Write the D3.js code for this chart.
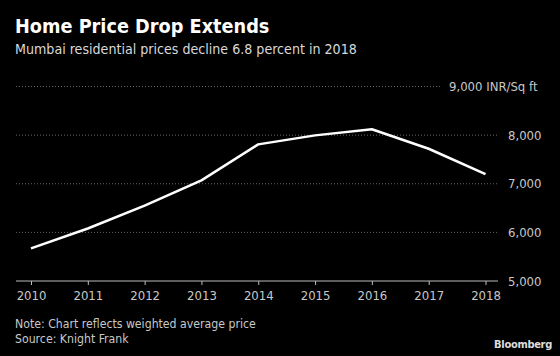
<!DOCTYPE html>
<html><head><meta charset="utf-8">
<script src="https://cdn.jsdelivr.net/npm/d3@7"></script>
<style>
html,body{margin:0;padding:0;background:#000;}
svg{display:block;}
text{font-family:"DejaVu Sans Condensed","DejaVu Sans",sans-serif;}
</style></head>
<body><svg id="c" width="560" height="356"></svg>
<script>
const years = [2010, 2011, 2012, 2013, 2014, 2015, 2016, 2017, 2018];
const prices = [5670, 6080, 6550, 7070, 7810, 7995, 8120, 7720, 7200];
const yTicks = [5000, 6000, 7000, 8000, 9000];
const yTickLabels = ["5,000", "6,000", "7,000", "8,000", "9,000 INR/Sq ft"];

const svg = d3.select("#c");
svg.append("rect").attr("width",560).attr("height",356).attr("fill","#000");

const x = d3.scaleLinear().domain([2010, 2018]).range([31, 485.5]);
const y = d3.scaleLinear().domain([5000, 9000]).range([281, 86.5]);

svg.append("text").attr("x",15).attr("y",33).attr("fill","#fff")
  .attr("font-size",19.7).attr("font-weight","bold").text("Home Price Drop Extends");
svg.append("text").attr("x",15).attr("y",54).attr("fill","#d9d9d9")
  .attr("font-size",14.1).text("Mumbai residential prices decline 6.8 percent in 2018");

// gridlines
svg.append("g").selectAll("line").data(yTicks.filter(d=>d>5000)).join("line")
  .attr("x1",16).attr("x2",d=>d===9000?441:498)
  .attr("y1",d=>y(d)).attr("y2",d=>y(d))
  .attr("stroke","#666").attr("stroke-width",1).attr("stroke-dasharray","1,2");

// y labels
svg.append("g").selectAll("text").data(yTicks).join("text")
  .attr("x",(d)=>d===9000?449:508).attr("y",d=>y(d)+4.5)
  .attr("fill","#c8c8c8").attr("font-size",13).text((d,i)=>yTickLabels[i]);

// x axis
const xAxis = d3.axisBottom(x).tickValues(years).tickFormat(d3.format("d")).tickSize(4).tickSizeOuter(0);
const gx = svg.append("g").attr("transform","translate(0,281)").call(xAxis);
gx.select(".domain").remove();
gx.append("line").attr("x1",16).attr("x2",498).attr("stroke","#bbb");
gx.selectAll(".tick line").attr("stroke","#bbb");
gx.selectAll(".tick text").attr("fill","#c8c8c8").attr("font-size",13)
  .attr("font-family","DejaVu Sans Condensed, DejaVu Sans, sans-serif").attr("dy","0.95em");

// line
const line = d3.line().x((d,i)=>x(years[i])).y(d=>y(d));
svg.append("path").datum(prices).attr("d",line).attr("fill","none")
  .attr("stroke","#fff").attr("stroke-width",2.5).attr("stroke-linejoin","round");

svg.append("text").attr("x",15).attr("y",328).attr("fill","#c8c8c8").attr("font-size",12.2)
  .text("Note: Chart reflects weighted average price");
svg.append("text").attr("x",15).attr("y",343).attr("fill","#c8c8c8").attr("font-size",12.2)
  .text("Source: Knight Frank");
svg.append("text").attr("x",552).attr("y",348).attr("text-anchor","end").attr("fill","#ddd")
  .attr("font-size",11).attr("font-weight","bold").attr("font-family","Liberation Sans, Arial, sans-serif")
  .attr("letter-spacing","-0.3").text("Bloomberg");
</script></body></html>
